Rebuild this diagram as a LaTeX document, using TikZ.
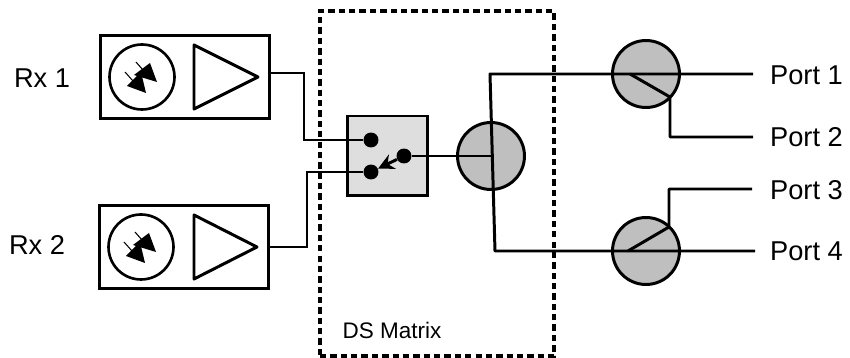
\documentclass[tikz,border=0pt]{standalone}
\usepackage{fontspec}
\setmainfont{Liberation Sans}
\usetikzlibrary{arrows.meta}
\tikzset{
   wire/.style={line width=1.7pt},
   block/.style={draw, line width=1.7pt, rectangle, minimum width=3.4cm, minimum height=1.68cm},
   detector/.style={draw, line width=1.5pt, circle, fill=white, minimum size=1.3cm},
   splitter/.style={draw, line width=1.7pt, circle, fill=black!25, minimum size=1.34cm},
   contact/.style={circle, fill=black, minimum size=0.3cm, inner sep=0pt},
   label/.style={font=\fontsize{15.5pt}{18pt}\selectfont, inner sep=0pt},
   smalllabel/.style={font=\fontsize{12.8pt}{15pt}\selectfont, inner sep=0pt},
   diode/.pic={
      \fill (8,-14) -- (15,5) -- (-8,-2) -- cycle;
      \fill (-15,9) -- (4,16) -- (-1,-5) -- cycle;
      \draw[line width=0.6pt] (-6,-15) -- (1,-7);
      \draw[line width=0.6pt] (-17,-5) -- (-9,4);
   }
}
\begin{document}
\begin{tikzpicture}[x=0.02cm, y=-0.02cm, >={Stealth[length=9pt, width=9pt, inset=3pt]}]
   \useasboundingbox (0,0) rectangle (850,358);
   % matrix frame
   \node (frame) at (437,183.5) [draw, line width=1.9pt, dash pattern=on 3.6pt off 2.3pt, minimum width=4.68cm, minimum height=6.9cm] {};
   \node at (392,330) [smalllabel] (dslabel) {DS Matrix};
   % receivers
   \node (rx1) at (185,77) [block] {};
   \node (rx2) at (184,247) [block] {};
   \node (pd1) at (142,77) [detector] {};
   \node (pd2) at (141,247) [detector] {};
   \pic at (142,77) {diode};
   \pic at (141,247) {diode};
   \node (amp1a) at (194,45) [coordinate] {};
   \node (amp1b) at (258,77) [coordinate] {};
   \node (amp1c) at (194,109) [coordinate] {};
   \draw[wire, line join=round] (amp1a) -- (amp1b) -- (amp1c) -- cycle;
   \node (amp2a) at (194,215) [coordinate] {};
   \node (amp2b) at (257,247) [coordinate] {};
   \node (amp2c) at (194,279) [coordinate] {};
   \draw[wire, line join=round] (amp2a) -- (amp2b) -- (amp2c) -- cycle;
   \node at (42,78) [label] (rxlabel1) {Rx 1};
   \node at (37,245) [label] (rxlabel2) {Rx 2};
   % switch
   \node (switch) at (387.5,156) [draw, line width=1.7pt, fill=black!13, minimum width=1.62cm, minimum height=1.6cm] {};
   \node (s1) at (371,140) [contact] {};
   \node (s2) at (371,172) [contact] {};
   \node (s3) at (404,156) [contact] {};
   \draw[wire, ->] (s3) -- (s2);
   \coordinate (a1) at (304,73);
   \coordinate (b1) at (304,140);
   \draw[wire] (rx1.east |- a1) -- (a1) -- (b1) -- (s1);
   \coordinate (a2) at (307,247);
   \coordinate (b2) at (307,172);
   \draw[wire] (rx2.east) -- (a2) -- (b2) -- (s2);
   % splitters
   \node (sp0) at (491,156) [splitter] {};
   \node (sp1) at (646,74) [splitter] {};
   \node (sp2) at (646,251) [splitter] {};
   \coordinate (t0) at (490,74);
   \coordinate (b0) at (495,251);
   \coordinate (m0) at (492.5,156);
   \draw[wire] (s3) -- (m0);
   \draw[wire, line join=round] (sp1.center -| 753,0) -- (t0) -- (b0) -- (sp2.center -| 755,0);
   % ports
   \node at (806.5,75) [label] (port1) {Port 1};
   \node at (806.5,137) [label] (port2) {Port 2};
   \node at (806.5,190) [label] (port3) {Port 3};
   \node at (806.5,251) [label] (port4) {Port 4};
   \coordinate (c1) at (630,74);
   \coordinate (d1) at (670,97);
   \coordinate (e1) at (670,137);
   \draw[wire, line join=round] (c1) -- (d1) -- (e1) -- (753,137);
   \coordinate (c2) at (628,251);
   \coordinate (d2) at (669,227);
   \coordinate (e2) at (669,189);
   \draw[wire, line join=round] (c2) -- (d2) -- (e2) -- (752,189);
\end{tikzpicture}
\end{document}
